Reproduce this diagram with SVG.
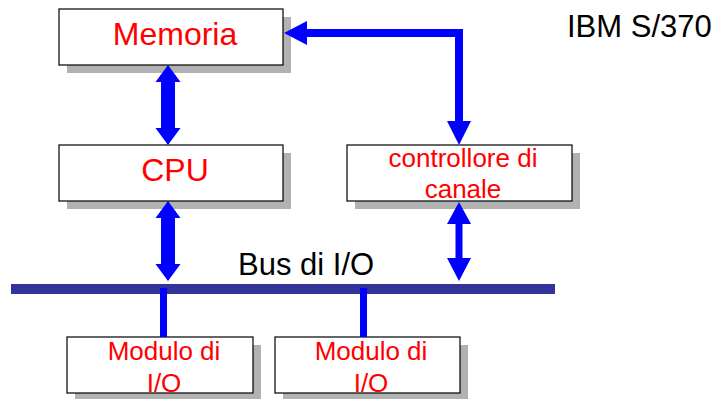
<svg xmlns="http://www.w3.org/2000/svg" width="719" height="399" viewBox="0 0 719 399">
<style>
.sh{fill:#b2b2b2}
.bx{fill:#fff;stroke:#000;stroke-width:1.2}
.lbl{font-family:"Liberation Sans",Arial,sans-serif;fill:#ff0000;text-anchor:middle}
.big{font-size:32px}
.sm{font-size:26px}
.blk{font-family:"Liberation Sans",Arial,sans-serif;fill:#000;font-size:31px}
.ar{fill:#0000ff}
</style>
<rect width="719" height="399" fill="#fff"/>
<g id="memoria">
<rect class="sh" x="67" y="17" width="224" height="56"/>
<rect class="bx" x="59" y="9" width="224" height="56"/>
<text class="lbl big" x="175" y="45">Memoria</text>
</g>
<g id="cpu">
<rect class="sh" x="67" y="153" width="224" height="56"/>
<rect class="bx" x="59" y="145" width="224" height="56"/>
<text class="lbl big" x="175" y="181">CPU</text>
</g>
<g id="controllore">
<rect class="sh" x="355" y="153" width="225" height="56"/>
<rect class="bx" x="347" y="145" width="225" height="56"/>
<text class="lbl sm" x="463" y="167">controllore di</text>
<text class="lbl sm" x="463" y="198">canale</text>
</g>
<g id="modulo1">
<rect class="sh" x="75" y="345" width="186" height="56"/>
<rect class="bx" x="67" y="337" width="186" height="56"/>
<text class="lbl sm" x="164" y="360">Modulo di</text>
<text class="lbl sm" x="164" y="392">I/O</text>
</g>
<g id="modulo2">
<rect class="sh" x="283" y="345" width="185" height="56"/>
<rect class="bx" x="275" y="337" width="185" height="56"/>
<text class="lbl sm" x="371" y="360">Modulo di</text>
<text class="lbl sm" x="371" y="392">I/O</text>
</g>
<g id="bus">
<rect x="11" y="284" width="544" height="10" fill="#333399"/>
<text class="blk" x="238" y="275">Bus di I/O</text>
</g>
<g id="title">
<text class="blk" x="567" y="37">IBM S/370</text>
</g>
<g id="connectors">
<path class="ar" d="M168,65 L180.5,82 L175,82 L175,128 L180.5,128 L168,145 L155.5,128 L161,128 L161,82 L155.5,82 Z"/>
<path class="ar" d="M168,201 L180.5,218 L175,218 L175,264 L180.5,264 L168,281 L155.5,264 L161,264 L161,218 L155.5,218 Z"/>
<path class="ar" d="M459,202 L471,224 L462.5,224 L462.5,258 L471,258 L459,281 L447,258 L455.5,258 L455.5,224 L447,224 Z"/>
<path class="ar" d="M284,33 L307,21 L307,29 L463,29 L463,121 L471,121 L459,145 L447,121 L455,121 L455,37 L307,37 L307,45 Z"/>
<rect class="ar" x="160" y="288" width="7" height="49"/>
<rect class="ar" x="360" y="288" width="7" height="49"/>
</g>
</svg>
